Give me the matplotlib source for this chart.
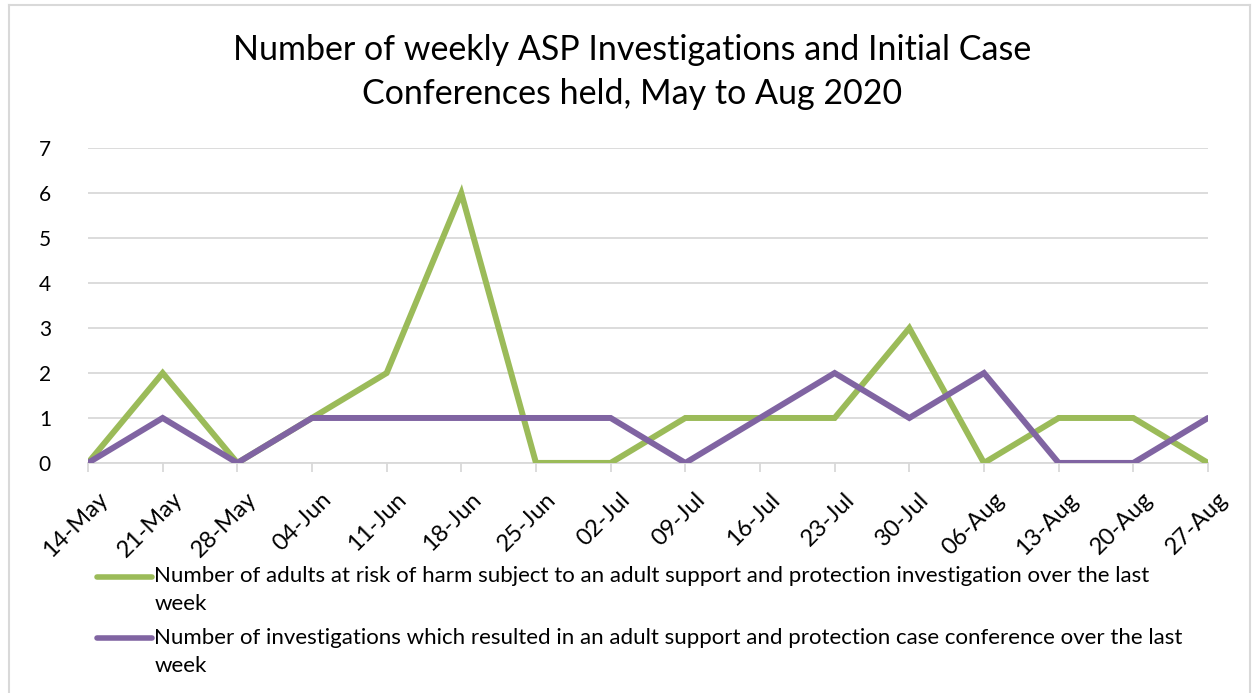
import matplotlib.pyplot as plt
import matplotlib.transforms as mtransforms
from matplotlib.lines import Line2D
from matplotlib.legend_handler import HandlerLine2D

plt.rcParams['font.family'] = ['Lato', 'DejaVu Sans']

# weekly dates (x categories)
weeks = ['14-May', '21-May', '28-May', '04-Jun', '11-Jun', '18-Jun', '25-Jun', '02-Jul',
         '09-Jul', '16-Jul', '23-Jul', '30-Jul', '06-Aug', '13-Aug', '20-Aug', '27-Aug']

# number of adults subject to ASP investigation
investigations = [0, 2, 0, 1, 2, 6, 0, 0, 1, 1, 1, 3, 0, 1, 1, 0]
# number of investigations resulting in case conference
conferences = [0, 1, 0, 1, 1, 1, 1, 1, 0, 1, 2, 1, 2, 0, 0, 1]

inv_label = ('Number of adults at risk of harm subject to an adult support and protection investigation over the last\n'
             'week')
conf_label = ('Number of investigations which resulted in an adult support and protection case conference over the last\n'
              'week')


# legend line drawn level with the first line of the (wrapped) label
class FirstLineHandler(HandlerLine2D):
    def create_artists(self, legend, orig_handle, xdescent, ydescent, width, height, fontsize, trans):
        artists = super().create_artists(legend, orig_handle, xdescent, ydescent,
                                         width, height, fontsize, trans)
        for a in artists:
            a.set_ydata([y + 0.62 * fontsize for y in a.get_ydata()])
        return artists


fig = plt.figure(figsize=(12.57, 6.93), dpi=100)
ax = fig.add_axes([0.070, 0.332, 0.891, 0.454])

x = list(range(len(weeks)))
ax.plot(x, investigations, color='#9BBB59', lw=4.3, solid_capstyle='round',
        solid_joinstyle='miter', label=inv_label)
ax.plot(x, conferences, color='#8064A2', lw=4.3, solid_capstyle='round',
        solid_joinstyle='miter', label=conf_label)

ax.set_xlim(0, len(weeks) - 1)
ax.set_ylim(0, 7)
ax.set_yticks(range(0, 8))
ax.grid(axis='y', color='#D9D9D9', lw=1.3)
ax.set_axisbelow(True)
for s in ['top', 'right', 'left']:
    ax.spines[s].set_visible(False)
ax.spines['bottom'].set_color('#D9D9D9')
ax.spines['bottom'].set_linewidth(1.3)
ax.spines['bottom'].set_zorder(0)

ax.set_xticks(x)
ax.tick_params(axis='x', length=6.5, color='#D9D9D9', width=1.3, pad=12, labelsize=17)
ax.set_xticklabels(weeks, rotation=45, ha='right', rotation_mode='anchor', fontsize=17)
shift = mtransforms.ScaledTranslation(9 / 100, 0, fig.dpi_scale_trans)
for lab in ax.get_xticklabels():
    lab.set_transform(lab.get_transform() + shift)
ax.tick_params(axis='y', length=0, labelsize=15, pad=31)
for lab in ax.get_yticklabels():
    lab.set_horizontalalignment('center')

fig.text(0.503, 0.951, 'Number of weekly ASP Investigations and Initial Case\nConferences held, May to Aug 2020',
         ha='center', va='top', fontsize=24.5, linespacing=1.45)

leg = ax.legend(loc='upper left', bbox_to_anchor=(0.0, -0.30), frameon=False,
                fontsize=16, handlelength=2.5, handletextpad=0.08, labelspacing=0.62,
                borderaxespad=0, handler_map={Line2D: FirstLineHandler()})
for line in leg.get_lines():
    line.set_linewidth(4.0)
for t in leg.get_texts():
    t.set_linespacing(1.5)

# chart border
fig.add_artist(Line2D([9 / 1257, 9 / 1257], [0, 1 - 5 / 693], color='#D9D9D9', lw=1.5))
fig.add_artist(Line2D([9 / 1257, 1250 / 1257], [1 - 5 / 693, 1 - 5 / 693], color='#D9D9D9', lw=1.5))
fig.add_artist(Line2D([1250 / 1257, 1250 / 1257], [0, 1 - 5 / 693], color='#D9D9D9', lw=1.5))

fig.savefig('out.png', dpi=100, facecolor='white')
